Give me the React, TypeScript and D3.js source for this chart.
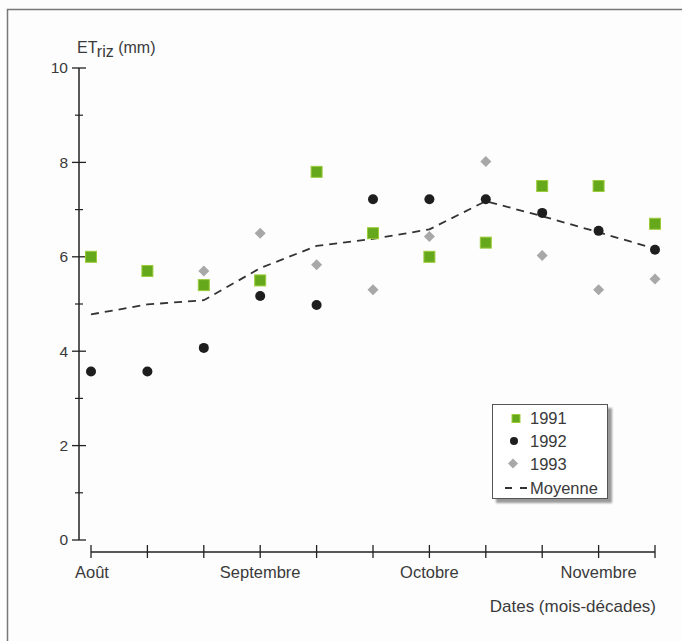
import React from "react";
import * as d3 from "d3";

const decades = [0, 1, 2, 3, 4, 5, 6, 7, 8, 9, 10];
const monthLabels = [
  { idx: 0, label: "Août" },
  { idx: 3, label: "Septembre" },
  { idx: 6, label: "Octobre" },
  { idx: 9, label: "Novembre" },
];
const yTicks = [0, 2, 4, 6, 8, 10];
const yMinorTicks = [1, 3, 5, 7, 9];

const s1991: (number | null)[] = [6.0, 5.7, 5.4, 5.5, 7.8, 6.5, 6.0, 6.3, 7.5, 7.5, 6.7];
const s1992: (number | null)[] = [3.57, 3.57, 4.07, 5.17, 4.98, 7.22, 7.22, 7.22, 6.93, 6.55, 6.15];
const s1993: (number | null)[] = [null, null, 5.7, 6.5, 5.83, 5.3, 6.43, 8.02, 6.03, 5.3, 5.53];
const moyenne: number[] = [4.78, 4.99, 5.08, 5.76, 6.23, 6.38, 6.58, 7.18, 6.86, 6.52, 6.17];

const FONT = "'Liberation Sans', Arial, Helvetica, sans-serif";
const GREEN = "#66a81c";
const BLACK = "#1e1e1e";
const GRAY = "#a8a8a8";
const TEXT = "#3a3a3a";

export default function App() {
  const W = 682;
  const H = 641;
  const x = d3.scaleLinear().domain([0, 10]).range([91, 655]);
  const y = d3.scaleLinear().domain([0, 10]).range([540, 68]);
  const axisY = 552;
  const axisX = 79;

  const line = d3
    .line<number>()
    .x((_, i) => x(decades[i]))
    .y((d) => y(d));

  const diamond = (cx: number, cy: number, r: number) =>
    `M${cx},${cy - r}L${cx + r},${cy}L${cx},${cy + r}L${cx - r},${cy}Z`;

  return (
    <svg
      width={W}
      height={H}
      style={{ position: "absolute", left: 0, top: 0, background: "#fff" }}
      fontFamily={FONT}
    >
      <defs>
        <filter id="blur" x="-10%" y="-10%" width="120%" height="120%">
          <feGaussianBlur stdDeviation="1.2" />
        </filter>
      </defs>
      <rect x={0} y={0} width={W} height={H} fill="#fdfdfd" />
      {/* frame */}
      <path d={`M7.5,${H}V9.5H${W}`} fill="none" stroke="#777" strokeWidth={1.5} />

      {/* y axis */}
      <line x1={axisX} x2={axisX} y1={y(10)} y2={y(0)} stroke="#222" strokeWidth={1.5} />
      {yTicks.map((t) => (
        <g key={t}>
          <line x1={axisX - 7} x2={axisX + 7} y1={y(t)} y2={y(t)} stroke="#222" strokeWidth={1.3} />
          <text x={axisX - 11} y={y(t)} dy="0.35em" textAnchor="end" fontSize={15.5} fill={TEXT}>
            {t}
          </text>
        </g>
      ))}
      {yMinorTicks.map((t) => (
        <line key={t} x1={axisX - 4} x2={axisX + 4} y1={y(t)} y2={y(t)} stroke="#222" strokeWidth={1.2} />
      ))}
      <text x={77} y={53} fontSize={16} fill={TEXT}>
        ET<tspan dy={4}>riz</tspan>
        <tspan dy={-4}> (mm)</tspan>
      </text>

      {/* x axis */}
      <line x1={x(0)} x2={x(10)} y1={axisY} y2={axisY} stroke="#222" strokeWidth={1.5} />
      {decades.map((d) => (
        <line key={d} x1={x(d)} x2={x(d)} y1={axisY - 7} y2={axisY + 6} stroke="#222" strokeWidth={1.3} />
      ))}
      {monthLabels.map((m) => (
        <text
          key={m.label}
          x={m.idx === 0 ? x(0) - 16 : x(m.idx)}
          y={578}
          textAnchor={m.idx === 0 ? "start" : "middle"}
          fontSize={16.5}
          fill={TEXT}
        >
          {m.label}
        </text>
      ))}
      <text x={656} y={612} textAnchor="end" fontSize={17} fill={TEXT}>
        Dates (mois-décades)
      </text>

      {/* mean line */}
      <path d={line(moyenne) || ""} fill="none" stroke="#333" strokeWidth={1.8} strokeDasharray="8,6" />

      {/* 1993 diamonds */}
      {s1993.map((v, i) =>
        v == null ? null : <path key={"d" + i} d={diamond(x(decades[i]), y(v), 5.5)} fill={GRAY} />
      )}
      {/* 1991 squares */}
      {s1991.map((v, i) =>
        v == null ? null : (
          <rect
            key={"s" + i}
            x={x(decades[i]) - 5.5}
            y={y(v) - 5.5}
            width={11}
            height={11}
            fill={GREEN}
            stroke="#9ccc3a"
            strokeWidth={1}
          />
        )
      )}
      {/* 1992 circles */}
      {s1992.map((v, i) =>
        v == null ? null : <circle key={"c" + i} cx={x(decades[i])} cy={y(v)} r={5} fill={BLACK} />
      )}

      {/* legend */}
      <rect x={496} y={408} width={116} height={95} fill="#999" filter="url(#blur)" />
      <rect x={492.5} y={404.5} width={115} height={94} fill="#fff" stroke="#555" strokeWidth={1} />
      <rect x={512} y={414.5} width={8} height={8} fill={GREEN} stroke="#9ccc3a" />
      <text x={530} y={418.5} dy="0.35em" fontSize={16.5} fill={TEXT}>1991</text>
      <circle cx={514} cy={441} r={4} fill={BLACK} />
      <text x={530} y={441.5} dy="0.35em" fontSize={16.5} fill={TEXT}>1992</text>
      <path d={diamond(513, 463.5, 5)} fill={GRAY} />
      <text x={530} y={464.5} dy="0.35em" fontSize={16.5} fill={TEXT}>1993</text>
      <line x1={505} x2={527} y1={488} y2={488} stroke="#333" strokeWidth={1.8} strokeDasharray="7,8" />
      <text x={530} y={488} dy="0.35em" fontSize={16.5} fill={TEXT}>Moyenne</text>
    </svg>
  );
}
